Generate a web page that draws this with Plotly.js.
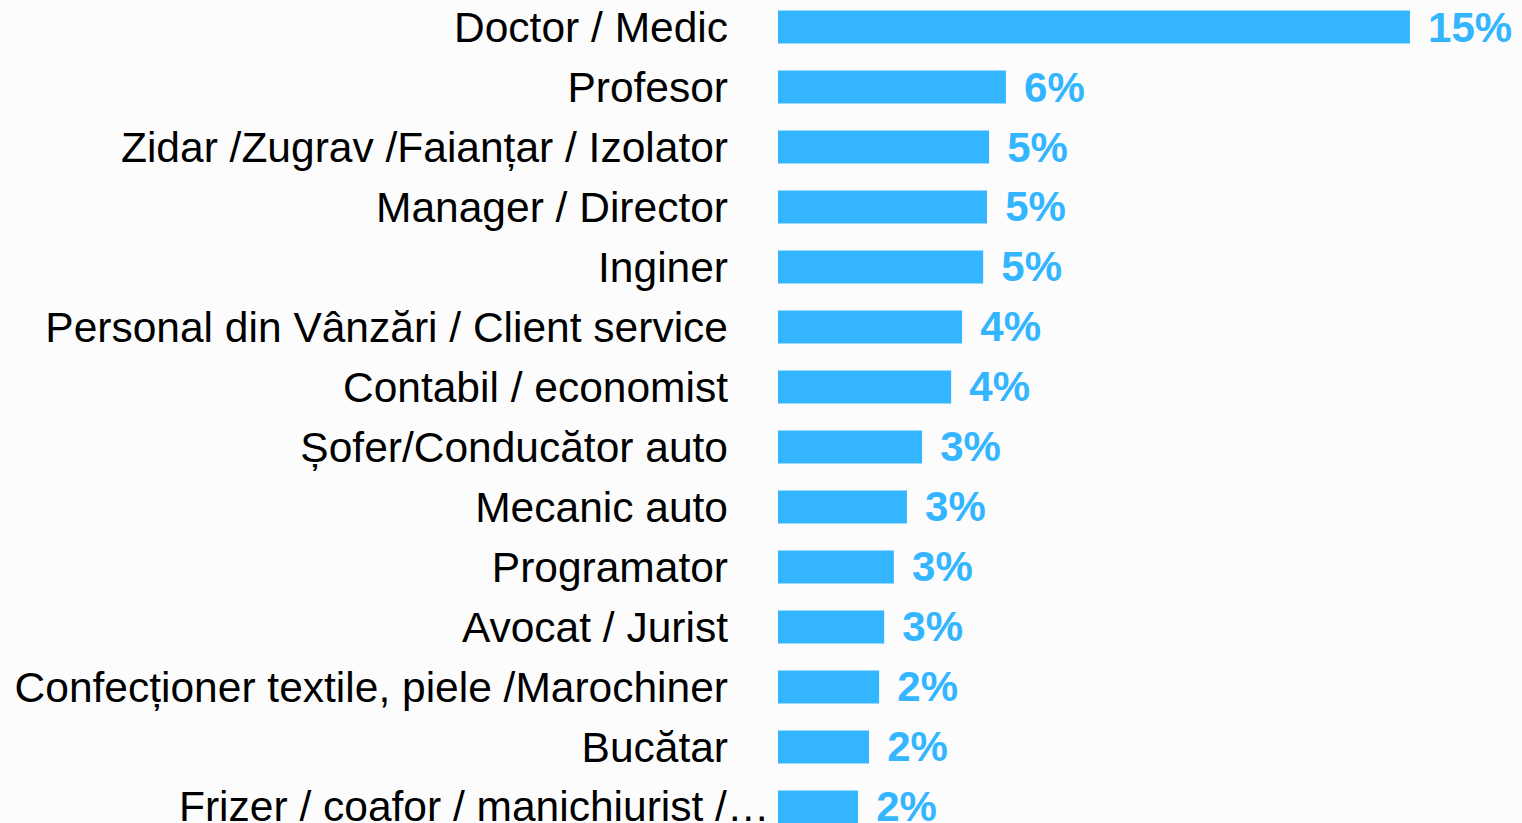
<!DOCTYPE html>
<html>
<head>
<meta charset="utf-8">
<script src="https://cdn.plot.ly/plotly-3.0.1.min.js"></script>
<style>
  html, body { margin: 0; padding: 0; background: #fcfcfc; overflow: hidden; }
  #chart { width: 1522px; height: 823px; }
</style>
</head>
<body>
<div id="chart"></div>
<script>
const categories = [
  "Doctor / Medic",
  "Profesor",
  "Zidar /Zugrav /Faianțar / Izolator",
  "Manager / Director",
  "Inginer",
  "Personal din Vânzări / Client service",
  "Contabil / economist",
  "Șofer/Conducător auto",
  "Mecanic auto",
  "Programator",
  "Avocat / Jurist",
  "Confecționer textile, piele /Marochiner",
  "Bucătar",
  "Frizer / coafor / manichiurist /…"
];
const values = [15.0, 5.41, 5.01, 4.96, 4.87, 4.37, 4.11, 3.42, 3.06, 2.75, 2.52, 2.40, 2.16, 1.90];
const valueLabels = ["15%", "6%", "5%", "5%", "5%", "4%", "4%", "3%", "3%", "3%", "3%", "2%", "2%", "2%"];

const FONT = "Liberation Sans, Arial, sans-serif";
const LABEL_SIZE = 42.5;

// The last (truncated) label sits further right in the original, so it is drawn as an annotation.
const lastIdx = categories.length - 1;
const tickText = categories.map((c, i) => (i === lastIdx ? "" : c));

const trace = {
  type: "bar",
  orientation: "h",
  x: values,
  y: categories,
  width: 0.55,
  marker: { color: "#33b5ff" },
  text: valueLabels.map(t => "\u00a0\u200a" + t),
  textposition: "outside",
  cliponaxis: false,
  constraintext: "none",
  textfont: { family: FONT, size: 42, color: "#33b5ff", weight: "bold" },
  hoverinfo: "skip"
};

const layout = {
  width: 1522,
  height: 823,
  margin: { l: 778, r: 0, t: 0, b: 0, pad: 0 },
  paper_bgcolor: "#fcfcfc",
  plot_bgcolor: "#fcfcfc",
  showlegend: false,
  font: { family: FONT, size: LABEL_SIZE, color: "#000000" },
  xaxis: {
    range: [0, 17.66],
    visible: false,
    showgrid: false,
    zeroline: false,
    fixedrange: true
  },
  yaxis: {
    type: "category",
    categoryorder: "array",
    categoryarray: categories,
    tickmode: "array",
    tickvals: categories,
    ticktext: tickText,
    range: [13.267, -0.45],
    showgrid: false,
    zeroline: false,
    showline: false,
    ticks: "",
    ticklabelstandoff: 49,
    automargin: false,
    tickfont: { family: FONT, size: LABEL_SIZE, color: "#000000" },
    fixedrange: true
  },
  annotations: [{
    text: categories[lastIdx],
    x: 0,
    xref: "x",
    y: categories[lastIdx],
    yref: "y",
    xanchor: "right",
    yanchor: "middle",
    xshift: -7,
    showarrow: false,
    font: { family: FONT, size: LABEL_SIZE, color: "#000000" }
  }]
};

Plotly.newPlot("chart", [trace], layout, { displayModeBar: false, staticPlot: true });
</script>
</body>
</html>
